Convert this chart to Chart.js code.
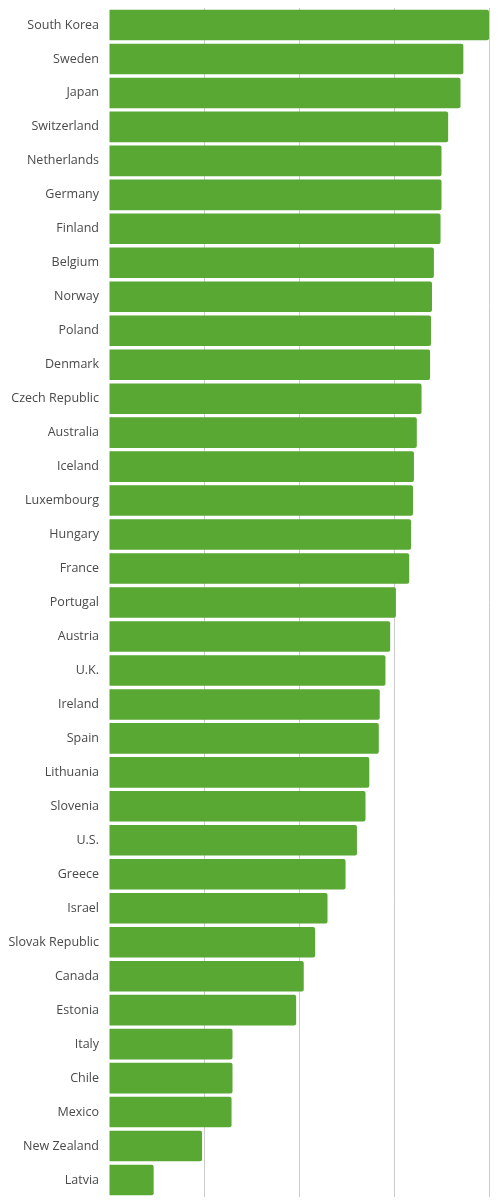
<!DOCTYPE html>
<html>
<head>
<meta charset="utf-8">
<script src="https://cdn.jsdelivr.net/npm/chart.js"></script>
<style>
  html, body { margin: 0; padding: 0; background: #fff; }
  #wrap { width: 499px; height: 1200px; position: relative; }
</style>
</head>
<body>
<div id="wrap"><canvas id="chart"></canvas></div>
<script>
// Countries, top to bottom
const countries = [
    "South Korea", "Sweden", "Japan", "Switzerland", "Netherlands", "Germany",
    "Finland", "Belgium", "Norway", "Poland", "Denmark", "Czech Republic",
    "Australia", "Iceland", "Luxembourg", "Hungary", "France", "Portugal",
    "Austria", "U.K.", "Ireland", "Spain", "Lithuania", "Slovenia", "U.S.",
    "Greece", "Israel", "Slovak Republic", "Canada", "Estonia", "Italy",
    "Chile", "Mexico", "New Zealand", "Latvia"
];

// Values (gridlines every 1.0)
const values = [
    4.00, 3.73, 3.70, 3.57, 3.50, 3.50,
    3.49, 3.42, 3.40, 3.39, 3.38, 3.29,
    3.24, 3.21, 3.20, 3.18, 3.16, 3.02,
    2.96, 2.91, 2.85, 2.84, 2.74, 2.70, 2.61,
    2.49, 2.30, 2.17, 2.05, 1.97, 1.30,
    1.30, 1.29, 0.98, 0.47
];

const xTicks = [0, 1, 2, 3, 4];

new Chart(document.getElementById('chart'), {
    type: 'bar',
    data: {
        labels: countries,
        datasets: [{
            data: values,
            backgroundColor: '#59a834',
            borderRadius: 2,
            borderSkipped: 'start',
            barPercentage: 0.9,
            categoryPercentage: 1.0
        }]
    },
    options: {
        indexAxis: 'y',
        responsive: true,
        maintainAspectRatio: false,
        animation: false,
        layout: { padding: { left: 0, right: 10, top: 8, bottom: 3 } },
        plugins: {
            legend: { display: false },
            tooltip: { enabled: false }
        },
        scales: {
            x: {
                min: xTicks[0],
                max: xTicks[xTicks.length - 1],
                afterBuildTicks: (scale) => { scale.ticks = xTicks.map(v => ({ value: v })); },
                afterFit: (scale) => { scale.height = 0; },
                ticks: { display: false },
                border: { display: false },
                grid: {
                    color: (ctx) => ctx.tick && ctx.tick.value === 0 ? 'rgba(0,0,0,0)' : '#cccccc',
                    lineWidth: 1,
                    drawTicks: false
                }
            },
            y: {
                afterFit: (scale) => {
                    scale.width = 109;
                    scale.paddingTop = 0;
                    scale.paddingBottom = 0;
                },
                border: { display: false },
                grid: { display: false, drawTicks: false },
                ticks: {
                    color: '#4a4a4a',
                    padding: 10,
                    autoSkip: false,
                    font: { family: '"Open Sans", sans-serif', size: 12.5 }
                }
            }
        }
    }
});
</script>
</body>
</html>
